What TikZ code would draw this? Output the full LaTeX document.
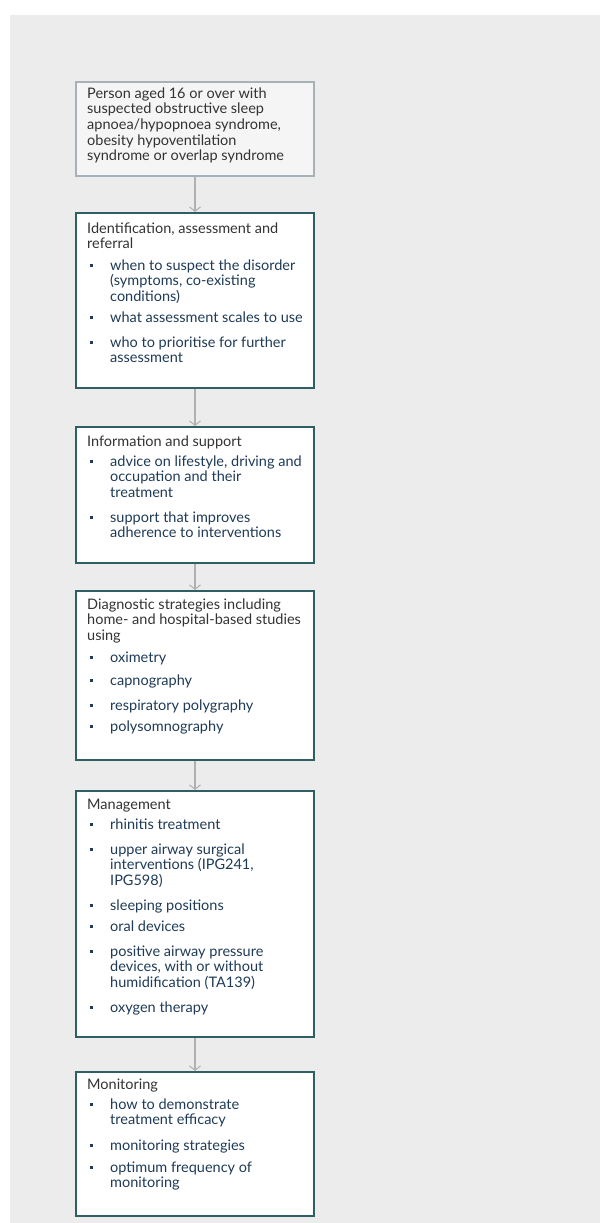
\documentclass[tikz,border=0pt]{standalone}
\usepackage{fontspec}
\setmainfont{Lato}
\usetikzlibrary{arrows.meta}
\definecolor{bgc}{HTML}{ECECEC}
\definecolor{firstfill}{HTML}{F5F5F5}
\definecolor{firstdraw}{HTML}{A7B1B6}
\definecolor{boxdraw}{HTML}{2D5F63}
\definecolor{titlec}{HTML}{333333}
\definecolor{itemc}{HTML}{1F3B57}
\definecolor{arrowc}{HTML}{B0B0B0}
\newcommand\mylines[1]{\begin{tabular}[t]{@{}l@{}}#1\end{tabular}}
\newcommand\mybul{\makebox[0pt][r]{\textcolor{itemc}{\rule[3.3pt]{2.7pt}{2.7pt}}\hspace{17.5pt}}}
\begin{document}
\begin{tikzpicture}[x=1pt,y=-1pt,
  firstbox/.style={draw=firstdraw,fill=firstfill,line width=1.4pt,minimum width=238pt,inner sep=0pt},
  stagebox/.style={draw=boxdraw,fill=white,line width=2pt,minimum width=238pt,inner sep=0pt},
  titletext/.style={anchor=base west,inner sep=0pt,text=titlec,font=\fontsize{14.5}{15.7}\selectfont},
  itemtext/.style={anchor=base west,inner sep=0pt,text=itemc,font=\fontsize{14.5}{15.7}\selectfont},
  flow/.style={draw=arrowc,line width=1.6pt,-{Straight Barb[length=4.5pt,width=11pt,line width=1pt]}}]
\useasboundingbox (0,0) rectangle (600,1223);
\fill[bgc] (10,15) rectangle (600,1223);

% boxes
\node[firstbox,minimum height=94pt] (n1) at (195,129) {};
\node[stagebox,minimum height=175pt] (n2) at (195,300.5) {};
\node[stagebox,minimum height=136pt] (n3) at (195,495) {};
\node[stagebox,minimum height=169pt] (n4) at (195,675.5) {};
\node[stagebox,minimum height=246pt] (n5) at (195,914) {};
\node[stagebox,minimum height=144pt] (n6) at (195,1144) {};

% connectors
\draw[flow] (n1.south) -- (n2.north);
\draw[flow] (n2.south) -- (n3.north);
\draw[flow] (n3.south) -- (n4.north);
\draw[flow] (n4.south) -- (n5.north);
\draw[flow] (n5.south) -- (n6.north);

% box 1
\node[titletext] (t1) at (87,98) {\mylines{Person aged 16 or over with\\suspected obstructive sleep\\apnoea/hypopnoea syndrome,\\obesity hypoventilation\\syndrome or overlap syndrome}};

% box 2
\node[titletext] (t2) at (87,233) {\mylines{Identification, assessment and\\referral}};
\node[itemtext] (i21) at (110,270) {\mybul\mylines{when to suspect the disorder\\(symptoms, co-existing\\conditions)}};
\node[itemtext] (i22) at (110,322) {\mybul\mylines{what assessment scales to use}};
\node[itemtext] (i23) at (110,347) {\mybul\mylines{who to prioritise for further\\assessment}};

% box 3
\node[titletext] (t3) at (87,446) {\mylines{Information and support}};
\node[itemtext] (i31) at (110,466) {\mybul\mylines{advice on lifestyle, driving and\\occupation and their\\treatment}};
\node[itemtext] (i32) at (110,522) {\mybul\mylines{support that improves\\adherence to interventions}};

% box 4
\node[titletext] (t4) at (87,609) {\mylines{Diagnostic strategies including\\home- and hospital-based studies\\using}};
\node[itemtext] (i41) at (110,662) {\mybul\mylines{oximetry}};
\node[itemtext] (i42) at (110,685) {\mybul\mylines{capnography}};
\node[itemtext] (i43) at (110,710) {\mybul\mylines{respiratory polygraphy}};
\node[itemtext] (i44) at (110,731) {\mybul\mylines{polysomnography}};

% box 5
\node[titletext] (t5) at (87,809) {\mylines{Management}};
\node[itemtext] (i51) at (110,829) {\mybul\mylines{rhinitis treatment}};
\node[itemtext] (i52) at (110,854) {\mybul\mylines{upper airway surgical\\interventions (IPG241,\\IPG598)}};
\node[itemtext] (i53) at (110,910) {\mybul\mylines{sleeping positions}};
\node[itemtext] (i54) at (110,931) {\mybul\mylines{oral devices}};
\node[itemtext] (i55) at (110,956) {\mybul\mylines{positive airway pressure\\devices, with or without\\humidification (TA139)}};
\node[itemtext] (i56) at (110,1012) {\mybul\mylines{oxygen therapy}};

% box 6
\node[titletext] (t6) at (87,1089) {\mylines{Monitoring}};
\node[itemtext] (i61) at (110,1109) {\mybul\mylines{how to demonstrate\\treatment efficacy}};
\node[itemtext] (i62) at (110,1150) {\mybul\mylines{monitoring strategies}};
\node[itemtext] (i63) at (110,1172) {\mybul\mylines{optimum frequency of\\monitoring}};
\end{tikzpicture}
\end{document}
